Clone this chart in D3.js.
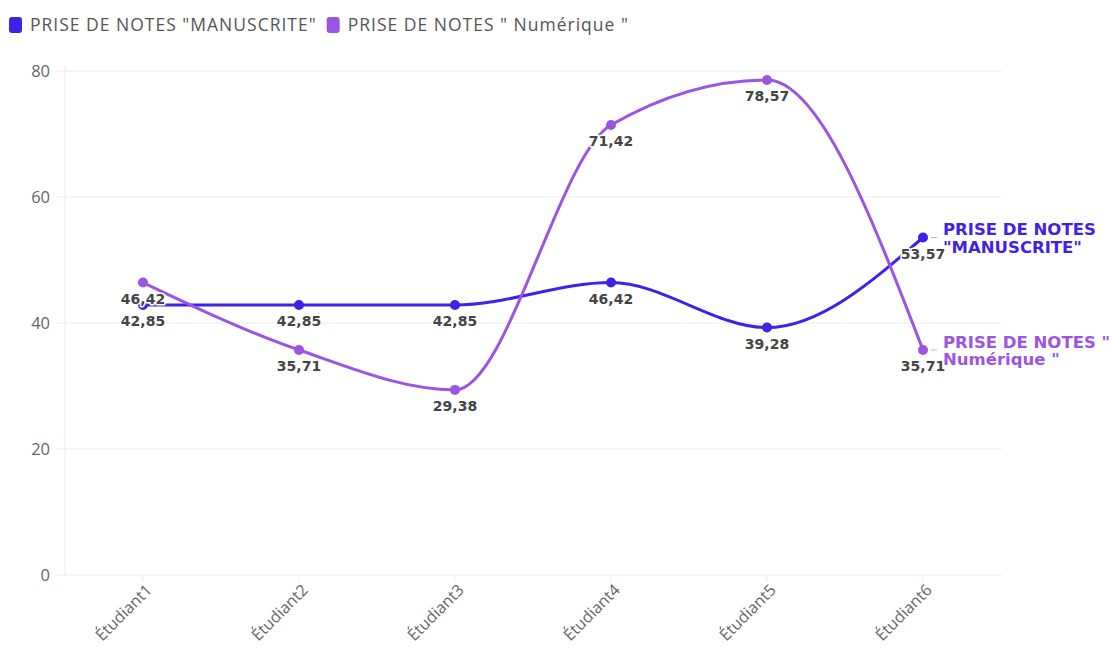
<!DOCTYPE html>
<html><head><meta charset="utf-8">
<script src="https://cdn.jsdelivr.net/npm/d3@7"></script>
<style>
html,body{margin:0;padding:0;background:#fff;}
svg{display:block;}
</style></head>
<body>
<svg id="chart" width="1112" height="648"></svg>
<script>
const categories = ["Étudiant1","Étudiant2","Étudiant3","Étudiant4","Étudiant5","Étudiant6"];
const manuscrite = [42.85, 42.85, 42.85, 46.42, 39.28, 53.57];
const numerique = [46.42, 35.71, 29.38, 71.42, 78.57, 35.71];
const seriesNames = ['PRISE DE NOTES "MANUSCRITE"', 'PRISE DE NOTES " Numérique "'];
const endLabels = [['PRISE DE NOTES', '"MANUSCRITE"'], ['PRISE DE NOTES "', 'Numérique "']];
const yTicks = [0, 20, 40, 60, 80];
const colors = ["#3f22e6", "#9b55e2"];

const svg = d3.select("#chart");
const x = d3.scaleBand().domain(categories).range([65, 1001]);
const y = d3.scaleLinear().domain([0, 80]).range([575, 71]);
const cx = c => x(c) + x.bandwidth() / 2;

// grid
svg.append("g").selectAll("line").data(yTicks).join("line")
  .attr("x1", 56).attr("x2", 1001)
  .attr("y1", d => y(d)).attr("y2", d => y(d))
  .attr("stroke", "#ebebeb").attr("stroke-width", 1);
svg.append("line").attr("x1", 65).attr("x2", 65).attr("y1", 66).attr("y2", 575)
  .attr("stroke", "#ebebeb");
// y labels
svg.append("g").selectAll("text").data(yTicks).join("text")
  .attr("x", 50).attr("y", d => y(d)).attr("dy", "0.36em")
  .attr("text-anchor", "end")
  .attr("font-family", "Open Sans, sans-serif").attr("font-size", 16.5)
  .attr("fill", "#666").text(d => d);
// x ticks
svg.append("g").selectAll("line").data(categories).join("line")
  .attr("x1", d => cx(d)).attr("x2", d => cx(d))
  .attr("y1", 575).attr("y2", 582).attr("stroke", "#ebebeb");
svg.append("g").selectAll("text").data(categories).join("text")
  .attr("transform", d => `translate(${cx(d) + 10},${591}) rotate(-45)`)
  .attr("text-anchor", "end")
  .attr("font-family", "Open Sans, sans-serif").attr("font-size", 16)
  .attr("fill", "#666").text(d => d);

// legend
const leg = svg.append("g");
let lx = 9;
seriesNames.forEach((n, i) => {
  leg.append("rect").attr("x", lx).attr("y", 17).attr("width", 13).attr("height", 16)
    .attr("rx", 3).attr("fill", colors[i]);
  const t = leg.append("text").attr("x", lx + 21).attr("y", 25).attr("dy", "0.36em")
    .attr("font-family", "Open Sans, sans-serif").attr("font-size", 17.5)
    .attr("letter-spacing", 1)
    .attr("fill", "#555").text(n);
  lx += 21 + t.node().getComputedTextLength() + 10;
});

const line = d3.line().x(d => cx(d.c)).y(d => y(d.v)).curve(d3.curveMonotoneX);
const data = [manuscrite, numerique].map(s => s.map((v, i) => ({c: categories[i], v})));

data.forEach((s, i) => {
  svg.append("path").datum(s).attr("d", line)
    .attr("fill", "none").attr("stroke", colors[i]).attr("stroke-width", 3);
  svg.append("g").selectAll("circle").data(s).join("circle")
    .attr("cx", d => cx(d.c)).attr("cy", d => y(d.v)).attr("r", 5)
    .attr("fill", colors[i]);
});
// value labels
const fmt = v => v.toFixed(2).replace(".", ",");
data.forEach((s, i) => {
  svg.append("g").selectAll("text").data(s).join("text")
    .attr("x", d => cx(d.c)).attr("y", d => y(d.v) + 16).attr("dy", "0.36em")
    .attr("text-anchor", "middle")
    .attr("font-family", "DejaVu Sans, sans-serif").attr("font-weight", "bold")
    .attr("font-size", 14).attr("fill", "#444")
    .attr("stroke", "#fff").attr("stroke-width", 3).attr("paint-order", "stroke")
    .attr("stroke-linejoin", "round")
    .text(d => fmt(d.v));
});
// end labels
data.forEach((s, i) => {
  const last = s[s.length - 1];
  const px = cx(last.c), py = y(last.v);
  svg.append("line").attr("x1", px + 8).attr("x2", px + 14).attr("y1", py).attr("y2", py)
    .attr("stroke", "#bbb").attr("stroke-width", 1);
  const t = svg.append("text").attr("x", px + 20).attr("y", py - 8)
    .attr("font-family", "DejaVu Sans, sans-serif").attr("font-weight", "bold")
    .attr("font-size", 16.5).attr("fill", colors[i]);
  endLabels[i].forEach((l, k) => {
    t.append("tspan").attr("x", px + 20).attr("dy", k === 0 ? "0.36em" : "1.05em").text(l);
  });
});
</script>
</body></html>
